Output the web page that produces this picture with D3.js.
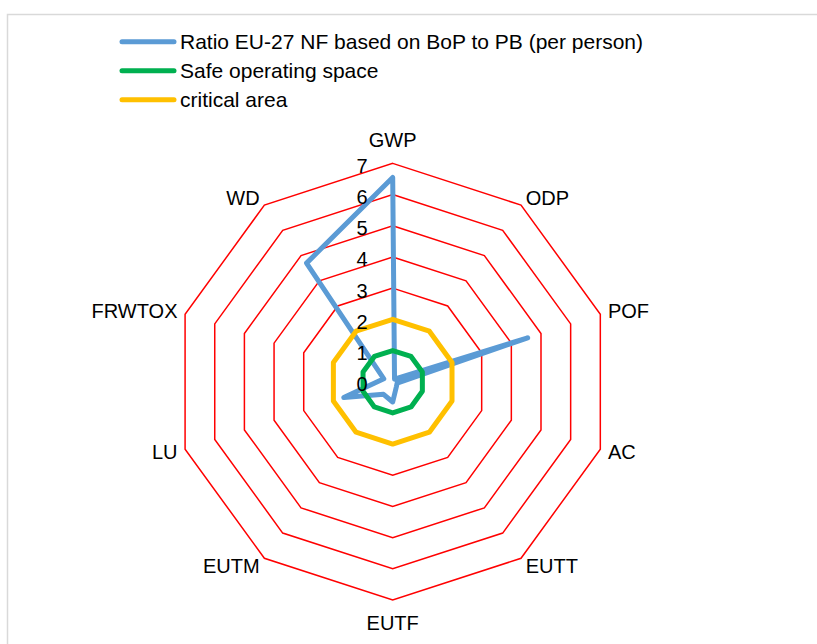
<!DOCTYPE html>
<html>
<head>
<meta charset="utf-8">
<script src="https://cdn.jsdelivr.net/npm/d3@7"></script>
<style>
    body { margin: 0; background: #fff; }
    svg { display: block; }
</style>
</head>
<body>
<script>
// categories (clockwise from top)
const axes = ['GWP', 'ODP', 'POF', 'AC', 'EUTT', 'EUTF', 'EUTM', 'LU', 'FRWTOX', 'WD'];
// series values
const ratioValues = [6.55, 0.1, 4.55, 0.15, 0.2, 0.65, 0.5, 1.65, 0.3, 4.7];
const safeValues = [1, 1, 1, 1, 1, 1, 1, 1, 1, 1];
const criticalValues = [2, 2, 2, 2, 2, 2, 2, 2, 2, 2];
// tick labels
const ticks = [0, 1, 2, 3, 4, 5, 6, 7];

const seriesNames = ['Ratio EU-27 NF based on BoP to PB (per person)', 'Safe operating space', 'critical area'];
const seriesColors = ['#5b9bd5', '#00b050', '#ffc000'];

// plot dimensions
const width = 817
const height = 644
const cx = 392.7
const cy = 381.7
const radius = 218.3
const fontFamily = "'Liberation Sans', Arial, sans-serif"
const fontSize = '20px'
const legendFontSize = '21px'

let svg = d3
    .select('body')
    .append('svg')
    .attr('width', width)
    .attr('height', height);

// chart area border (runs off the page right and bottom)
svg.append('rect')
    .attr('x', 7.5)
    .attr('y', 14.5)
    .attr('width', 900)
    .attr('height', 900)
    .attr('fill', 'none')
    .attr('stroke', '#d9d9d9')
    .attr('stroke-width', 1.5);

let r = d3.scaleLinear()
    .domain([0, 7])
    .range([0, radius]);

let angle = d3.scaleLinear()
    .domain([0, axes.length])
    .range([0, 2 * Math.PI]);

let g = svg.append('g')
    .attr('transform', `translate(${cx},${cy})`);

const radial = d3.lineRadial()
    .angle((d, i) => angle(i))
    .radius(d => r(d))
    .curve(d3.curveLinearClosed);

// red grid rings
g.selectAll('.ring')
    .data(ticks.filter(t => t > 0))
    .enter()
    .append('path')
    .attr('class', 'ring')
    .attr('d', t => radial(axes.map(() => t)))
    .attr('fill', 'none')
    .attr('stroke', '#ff0000')
    .attr('stroke-width', 1.5);

// series
[ratioValues, safeValues, criticalValues].forEach((vals, k) => {
    g.append('path')
        .datum(vals)
        .attr('d', radial)
        .attr('fill', 'none')
        .attr('stroke', seriesColors[k])
        .attr('stroke-width', 5)
        .attr('stroke-linejoin', 'round')
        .attr('stroke-linecap', 'round');
});

// tick labels
g.selectAll('.tick')
    .data(ticks)
    .enter()
    .append('text')
    .attr('class', 'tick')
    .text(d => d)
    .attr('x', -25)
    .attr('y', d => -r(d) + 2.5)
    .attr('text-anchor', 'end')
    .attr('dominant-baseline', 'central')
    .attr('font-family', fontFamily)
    .attr('font-size', fontSize)
    .attr('fill', '#000');

// category labels
g.selectAll('.cat')
    .data(axes)
    .enter()
    .append('text')
    .attr('class', 'cat')
    .text(d => d)
    .attr('x', (d, i) => Math.sin(angle(i)) * (radius + 8))
    .attr('y', (d, i) => {
        const c = Math.cos(angle(i));
        const s = Math.sin(angle(i));
        if (Math.abs(s) < 0.1) return -c * (radius + 23);
        return -c * radius - c * 9;
    })
    .attr('text-anchor', (d, i) => {
        const s = Math.sin(angle(i));
        return Math.abs(s) < 0.1 ? 'middle' : (s > 0 ? 'start' : 'end');
    })
    .attr('dominant-baseline', 'central')
    .attr('font-family', fontFamily)
    .attr('font-size', fontSize)
    .attr('fill', '#000');

// legend
let legend = svg.selectAll('.legend')
    .data(seriesNames)
    .enter()
    .append('g')
    .attr('class', 'legend')
    .attr('transform', (d, i) => `translate(0,${41.7 + i * 29})`);

legend.append('line')
    .attr('x1', 122)
    .attr('x2', 174)
    .attr('y1', 0)
    .attr('y2', 0)
    .attr('stroke', (d, i) => seriesColors[i])
    .attr('stroke-width', 5)
    .attr('stroke-linecap', 'round');

legend.append('text')
    .text(d => d)
    .attr('x', 180)
    .attr('y', 0)
    .attr('dominant-baseline', 'central')
    .attr('font-family', fontFamily)
    .attr('font-size', legendFontSize)
    .attr('fill', '#000');
</script>
</body>
</html>
